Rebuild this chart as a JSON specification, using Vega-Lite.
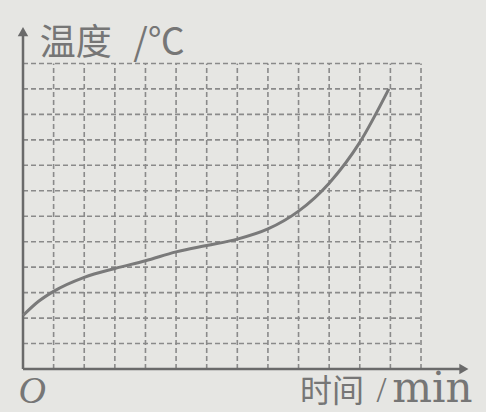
{
  "$schema": "https://vega.github.io/schema/vega-lite/v6.json",
  "width": 447,
  "height": 331,
  "autosize": {"type": "none"},
  "padding": {"left": 23, "top": 38, "right": 16, "bottom": 43},
  "background": "#e6e6e3",
  "config": {"view": {"stroke": null}},
  "datasets": {
    "vgrid": [{"g": 1}, {"g": 2}, {"g": 3}, {"g": 4}, {"g": 5}, {"g": 6}, {"g": 7}, {"g": 8}, {"g": 9}, {"g": 10}, {"g": 11}, {"g": 12}, {"g": 13}],
    "hgrid": [{"g": 1}, {"g": 2}, {"g": 3}, {"g": 4}, {"g": 5}, {"g": 6}, {"g": 7}, {"g": 8}, {"g": 9}, {"g": 10}, {"g": 11}, {"g": 12}],
    "curve": [
      {"t": 0, "temp": 2.1},
      {"t": 0.5, "temp": 2.65},
      {"t": 1, "temp": 3.05},
      {"t": 2, "temp": 3.6},
      {"t": 3, "temp": 3.95},
      {"t": 4, "temp": 4.25},
      {"t": 5, "temp": 4.6},
      {"t": 6, "temp": 4.85},
      {"t": 7, "temp": 5.1},
      {"t": 8, "temp": 5.5},
      {"t": 9, "temp": 6.2},
      {"t": 10, "temp": 7.3},
      {"t": 11, "temp": 8.9},
      {"t": 11.95, "temp": 11.0}
    ]
  },
  "layer": [
    {
      "data": {"name": "vgrid"},
      "mark": {"type": "rule", "color": "#8a8a8a", "strokeWidth": 1.6, "strokeDash": [5, 3]},
      "encoding": {
        "x": {"field": "g", "type": "quantitative", "scale": {"domain": [0, 14.6], "nice": false, "zero": false}, "axis": null},
        "y": {"datum": 0, "type": "quantitative", "scale": {"domain": [0, 13], "nice": false, "zero": false}, "axis": null},
        "y2": {"datum": 12}
      }
    },
    {
      "data": {"name": "hgrid"},
      "mark": {"type": "rule", "color": "#8a8a8a", "strokeWidth": 1.6, "strokeDash": [5, 3]},
      "encoding": {
        "y": {"field": "g", "type": "quantitative", "axis": null},
        "x": {"datum": 0, "type": "quantitative", "axis": null},
        "x2": {"datum": 13}
      }
    },
    {
      "data": {"values": [{}]},
      "mark": {"type": "rule", "color": "#6a6a6a", "strokeWidth": 2.5},
      "encoding": {
        "x": {"datum": 0, "type": "quantitative"},
        "x2": {"datum": 14.3},
        "y": {"datum": 0, "type": "quantitative"}
      }
    },
    {
      "data": {"values": [{}]},
      "mark": {"type": "rule", "color": "#6a6a6a", "strokeWidth": 2.5},
      "encoding": {
        "x": {"datum": 0, "type": "quantitative"},
        "y": {"datum": 0, "type": "quantitative"},
        "y2": {"datum": 13.2}
      }
    },
    {
      "data": {"values": [{}]},
      "mark": {"type": "point", "shape": "triangle-right", "filled": true, "color": "#6a6a6a", "size": 110, "opacity": 1},
      "encoding": {
        "x": {"datum": 14.4, "type": "quantitative"},
        "y": {"datum": 0, "type": "quantitative"}
      }
    },
    {
      "data": {"values": [{}]},
      "mark": {"type": "point", "shape": "triangle-up", "filled": true, "color": "#6a6a6a", "size": 110, "opacity": 1},
      "encoding": {
        "x": {"datum": 0, "type": "quantitative"},
        "y": {"datum": 13.25, "type": "quantitative"}
      }
    },
    {
      "data": {"name": "curve"},
      "mark": {"type": "line", "color": "#7a7a7a", "strokeWidth": 3, "interpolate": "monotone"},
      "encoding": {
        "x": {"field": "t", "type": "quantitative"},
        "y": {"field": "temp", "type": "quantitative"}
      }
    },
    {
      "data": {"values": [{}]},
      "mark": {"type": "text", "text": "温度", "align": "left", "baseline": "alphabetic", "fontSize": 36, "font": "Noto Sans CJK SC", "color": "#767676"},
      "encoding": {
        "x": {"datum": 0.55, "type": "quantitative"},
        "y": {"datum": 12.35, "type": "quantitative"}
      }
    },
    {
      "data": {"values": [{}]},
      "mark": {"type": "text", "text": "/℃", "align": "left", "baseline": "alphabetic", "fontSize": 37, "font": "Noto Sans CJK SC", "color": "#767676"},
      "encoding": {
        "x": {"datum": 3.6, "type": "quantitative"},
        "y": {"datum": 12.35, "type": "quantitative"}
      }
    },
    {
      "data": {"values": [{}]},
      "mark": {"type": "text", "text": "时间", "align": "left", "baseline": "alphabetic", "fontSize": 32, "font": "Noto Sans CJK SC", "color": "#767676"},
      "encoding": {
        "x": {"datum": 9.05, "type": "quantitative"},
        "y": {"datum": -1.3, "type": "quantitative"}
      }
    },
    {
      "data": {"values": [{}]},
      "mark": {"type": "text", "text": "/", "align": "left", "baseline": "alphabetic", "fontSize": 36, "font": "Liberation Serif", "color": "#767676"},
      "encoding": {
        "x": {"datum": 11.55, "type": "quantitative"},
        "y": {"datum": -1.3, "type": "quantitative"}
      }
    },
    {
      "data": {"values": [{}]},
      "mark": {"type": "text", "text": "min", "align": "left", "baseline": "alphabetic", "fontSize": 42, "font": "DejaVu Serif", "color": "#767676"},
      "encoding": {
        "x": {"datum": 12.06, "type": "quantitative"},
        "y": {"datum": -1.3, "type": "quantitative"}
      }
    },
    {
      "data": {"values": [{}]},
      "mark": {"type": "text", "text": "O", "align": "center", "baseline": "alphabetic", "fontSize": 38, "font": "Liberation Serif", "fontStyle": "italic", "color": "#767676"},
      "encoding": {
        "x": {"datum": 0.3, "type": "quantitative"},
        "y": {"datum": -1.33, "type": "quantitative"}
      }
    }
  ]
}
